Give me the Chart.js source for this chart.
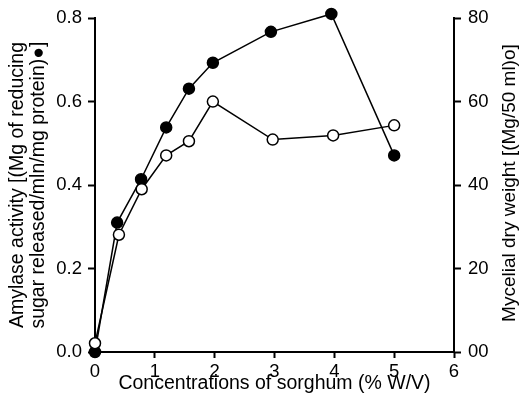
<!DOCTYPE html>
<html>
<head>
<meta charset="utf-8">
<script src="https://cdn.jsdelivr.net/npm/chart.js@4"></script>
<style>
  html, body { margin: 0; padding: 0; background: #fff; }
</style>
</head>
<body>
<canvas id="myChart" width="521" height="404"></canvas>
<script>
/* Amylase activity (filled) and mycelial dry weight (open) vs sorghum concentration */
const concAmylase = [0, 0.37, 0.77, 1.19, 1.57, 1.97, 2.94, 3.95, 5.0];
const amylase = [0.0, 0.31, 0.414, 0.538, 0.631, 0.693, 0.767, 0.81, 0.471];
const concWeight = [0, 0.40, 0.78, 1.19, 1.57, 1.97, 2.97, 3.98, 5.0];
const dryWeight = [2.1, 28.1, 39.0, 47.1, 50.5, 60.0, 50.9, 51.9, 54.3];

const xTitle = "Concentrations of sorghum (% W/V)";
const leftTitle = ["Amylase activity [(Mg of reducing", "sugar released/mln/mg protein)\u25CF]"];
const rightTitle = "Mycelial dry weight [(Mg/50 ml)o]";

const FONT = "'Liberation Sans', Arial, sans-serif";

function toPoints(xs, ys) {
  return xs.map((x, i) => ({ x: x, y: ys[i] }));
}

const axisGrid = {
  display: true,
  drawOnChartArea: false,
  drawTicks: true,
  tickLength: 7,
  tickWidth: 2,
  tickColor: "#000",
};
const axisBorder = { display: true, color: "#000", width: 2 };

// right axis title reads bottom-to-top, so draw it here
const rightTitlePlugin = {
  id: "rightTitle",
  afterDraw(chart) {
    const ctx = chart.ctx;
    const area = chart.chartArea;
    ctx.save();
    ctx.translate(510, (area.top + area.bottom) / 2 - 2);
    ctx.rotate(-Math.PI / 2);
    ctx.font = "19px " + FONT;
    ctx.fillStyle = "#000";
    ctx.textAlign = "center";
    ctx.textBaseline = "middle";
    ctx.fillText(rightTitle, 0, 0);
    ctx.restore();
  },
};

const data = {
  datasets: [
    {
      label: "Mycelial dry weight",
      data: toPoints(concWeight, dryWeight),
      yAxisID: "y1",
      borderColor: "#000",
      borderWidth: 1.5,
      pointRadius: 5.5,
      pointBorderWidth: 1.5,
      pointBackgroundColor: "#fff",
      pointBorderColor: "#000",
      tension: 0,
      clip: false,
    },
    {
      label: "Amylase activity",
      data: toPoints(concAmylase, amylase),
      yAxisID: "y",
      borderColor: "#000",
      borderWidth: 1.5,
      pointRadius: 5.5,
      pointBorderWidth: 1.5,
      pointBackgroundColor: "#000",
      pointBorderColor: "#000",
      tension: 0,
      clip: false,
    },
  ],
};

const config = {
  type: "line",
  data: data,
  plugins: [rightTitlePlugin],
  options: {
    responsive: false,
    animation: false,
    layout: { padding: { top: 17, left: 0, right: 0, bottom: 0 } },
    plugins: {
      legend: { display: false },
      tooltip: { enabled: false },
    },
    scales: {
      x: {
        type: "linear",
        min: 0,
        max: 6,
        grid: Object.assign({}, axisGrid, { tickLength: 6 }),
        border: axisBorder,
        ticks: {
          stepSize: 1,
          padding: 3,
          color: "#000",
          font: { family: FONT, size: 18.5 },
        },
        title: {
          display: true,
          text: xTitle,
          color: "#000",
          font: { family: FONT, size: 19.5 },
          padding: { top: 0, bottom: 9 },
        },
        afterFit(scale) { scale.height = 52; },
      },
      y: {
        type: "linear",
        position: "left",
        min: 0,
        max: 0.8,
        grid: axisGrid,
        border: axisBorder,
        ticks: {
          stepSize: 0.2,
          padding: 6,
          color: "#000",
          font: { family: FONT, size: 18.5 },
          callback: (v) => v.toFixed(1),
        },
        title: {
          display: true,
          text: leftTitle,
          color: "#000",
          font: { family: FONT, size: 19.5, lineHeight: 1.08 },
          padding: { top: 7, bottom: 0 },
        },
        afterFit(scale) { scale.width = 95; },
      },
      y1: {
        type: "linear",
        position: "right",
        min: 0,
        max: 80,
        grid: axisGrid,
        border: axisBorder,
        ticks: {
          stepSize: 20,
          padding: 7,
          color: "#000",
          font: { family: FONT, size: 18.5 },
          callback: (v) => (v === 0 ? "00" : String(v)),
        },
        afterFit(scale) { scale.width = 67; },
      },
    },
  },
};

var myChart = new Chart(document.getElementById("myChart"), config);
</script>
</body>
</html>
